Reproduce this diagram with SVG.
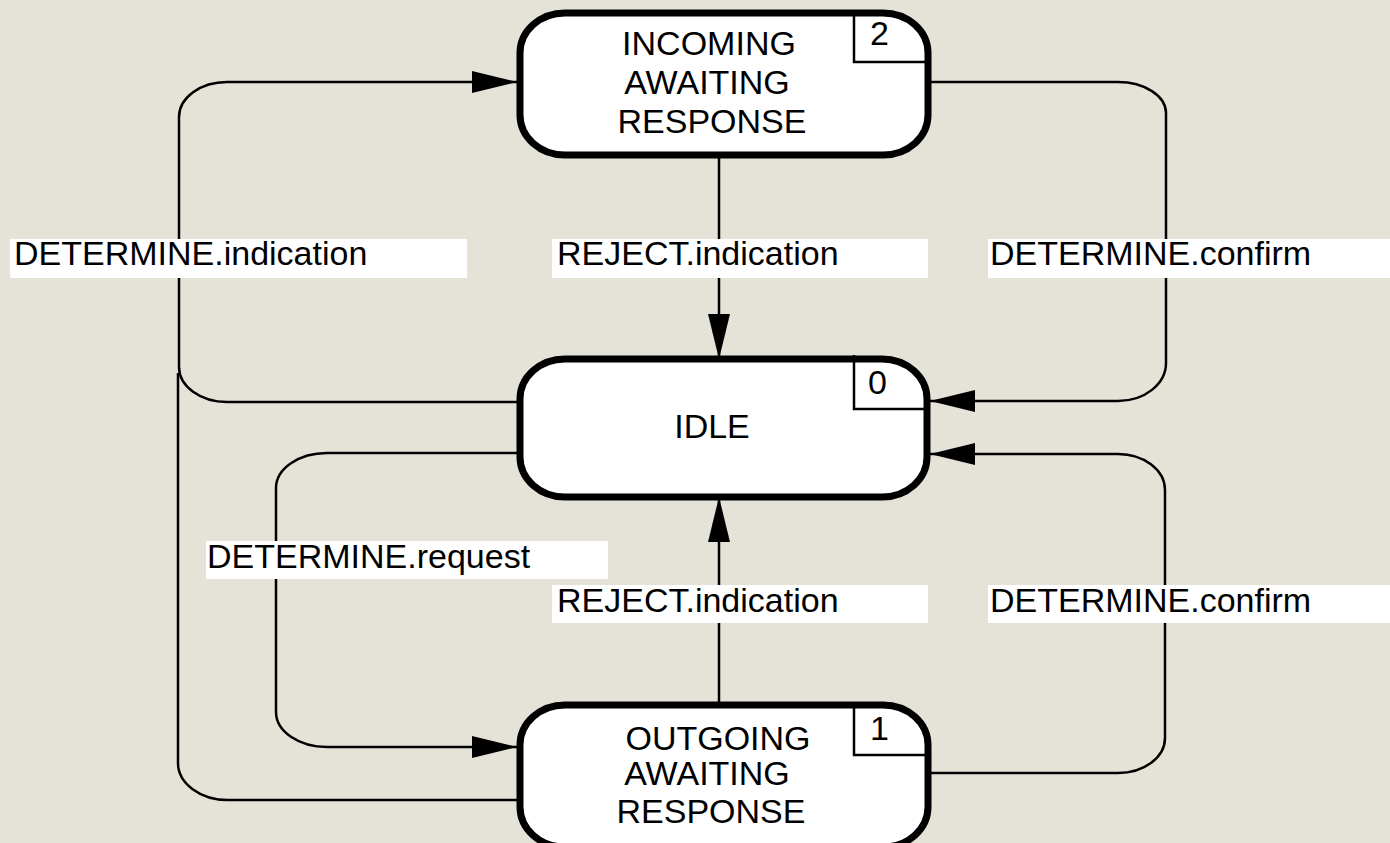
<svg xmlns="http://www.w3.org/2000/svg" width="1390" height="843" viewBox="0 0 1390 843">
<style>
.bg{fill:#E5E3D8}
.node{fill:#fff;stroke:#000;stroke-width:7}
.tag{fill:none;stroke:#000;stroke-width:2.5}
.t{font-family:"Liberation Sans",Arial,sans-serif;font-size:34px;fill:#000}
.c{text-anchor:middle}
.conn{fill:none;stroke:#000;stroke-width:2.5}
.lbg{fill:#fff}
</style>
<defs>
<marker id="arr" markerUnits="userSpaceOnUse" markerWidth="46" markerHeight="24" refX="45" refY="12" orient="auto">
<path d="M0,1 L45,12 L0,23 z" fill="#000"/>
</marker>
</defs>
<rect class="bg" x="0" y="0" width="1390" height="843"/>
<g id="connectors">
<path class="conn" d="M520,402 H227 A48,35 0 0 1 179,367 V117 A48,35 0 0 1 227,82 H517" marker-end="url(#arr)"/>
<path class="conn" d="M520,800 H228 A50,37 0 0 1 178,763 V373"/>
<path class="conn" d="M719,155 V359" marker-end="url(#arr)"/>
<path class="conn" d="M719,705 V497" marker-end="url(#arr)"/>
<path class="conn" d="M520,453 H327 A51,35 0 0 0 276,488 V712 A51,35 0 0 0 327,747 H517" marker-end="url(#arr)"/>
<path class="conn" d="M930,82 H1118 A48,31 0 0 1 1166,113 V363 A48,38 0 0 1 1118,401 H930" marker-end="url(#arr)"/>
<path class="conn" d="M925,773 H1118 A47,35 0 0 0 1165,738 V490 A47,36 0 0 0 1118,454 H930" marker-end="url(#arr)"/>
</g>
<g id="node-incoming">
<rect class="node" x="520" y="13" width="408" height="142" rx="45" ry="40"/>
<path class="tag" d="M854,10 V62 H927"/>
<text class="t" x="870" y="45">2</text>
<text class="t c" x="709" y="55">INCOMING</text>
<text class="t c" x="707" y="94">AWAITING</text>
<text class="t c" x="712" y="133">RESPONSE</text>
</g>
<g id="node-idle">
<rect class="node" x="520" y="359" width="407" height="138" rx="45" ry="40"/>
<path class="tag" d="M854,355 V409 H926"/>
<text class="t" x="868" y="394">0</text>
<text class="t c" x="712" y="438">IDLE</text>
</g>
<g id="node-outgoing">
<rect class="node" x="520" y="705" width="408" height="142" rx="45" ry="40"/>
<path class="tag" d="M854,708 V755 H927"/>
<text class="t" x="870" y="740">1</text>
<text class="t c" x="718" y="750">OUTGOING</text>
<text class="t c" x="707" y="785">AWAITING</text>
<text class="t c" x="711" y="823">RESPONSE</text>
</g>
<g id="labels">
<rect class="lbg" x="10" y="239" width="457" height="39"/>
<text class="t" x="14" y="265">DETERMINE.indication</text>
<rect class="lbg" x="552" y="239" width="376" height="39"/>
<text class="t" x="557" y="265">REJECT.indication</text>
<rect class="lbg" x="988" y="239" width="402" height="39"/>
<text class="t" x="990" y="265">DETERMINE.confirm</text>
<rect class="lbg" x="206" y="541" width="402" height="38"/>
<text class="t" x="207" y="568">DETERMINE.request</text>
<rect class="lbg" x="552" y="585" width="376" height="38"/>
<text class="t" x="557" y="612">REJECT.indication</text>
<rect class="lbg" x="988" y="585" width="402" height="38"/>
<text class="t" x="990" y="612">DETERMINE.confirm</text>
</g>
</svg>
